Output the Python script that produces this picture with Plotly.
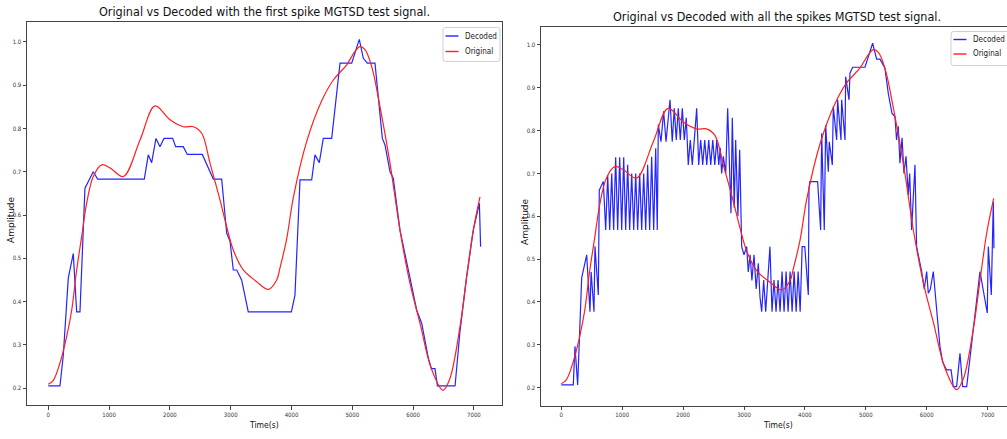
import plotly.graph_objects as go

W, H = 1007, 439

# Original test signal: knots of a smooth curve (time in s, amplitude)
orig_t = [0, 82, 192, 302, 385, 467, 549, 632, 740, 878, 1015, 1234, 1508, 1755,
          2002, 2220, 2385, 2523, 2660, 2824, 2934, 3043, 3207, 3427, 3618, 3757,
          3811, 3921, 4030, 4250, 4497, 4688, 4908, 5044, 5127, 5209, 5319, 5456,
          5620, 5784, 5949, 6113, 6300, 6490, 6600, 6771, 6881, 6990, 7100]
orig_v = [0.209, 0.218, 0.258, 0.319, 0.380, 0.473, 0.550, 0.628, 0.689, 0.716,
          0.709, 0.689, 0.773, 0.852, 0.820, 0.804, 0.804, 0.789, 0.720, 0.635,
          0.573, 0.519, 0.473, 0.446, 0.428, 0.450, 0.478, 0.545, 0.640, 0.770,
          0.864, 0.912, 0.947, 0.978, 0.989, 0.982, 0.943, 0.850, 0.720, 0.565,
          0.442, 0.350, 0.245, 0.195, 0.220, 0.342, 0.457, 0.565, 0.642]

# Decoded with the first spike only
first_t = [0, 192, 247, 329, 411, 467, 521, 603, 740, 812, 1579, 1645, 1700, 1771,
           1837, 1903, 2046, 2095, 2220, 2286, 2533, 2714, 2852, 2934, 2988, 3043,
           3099, 3180, 3289, 3998, 4057, 4140, 4332, 4386, 4457, 4523, 4661, 4798,
           4990, 5115, 5181, 5247, 5373, 5494, 5538, 5620, 5674, 5784, 5921, 6059,
           6141, 6250, 6300, 6360, 6400, 6690, 6770, 6880, 6990, 7090, 7110]
first_v = [0.205, 0.205, 0.276, 0.454, 0.511, 0.376, 0.376, 0.662, 0.700, 0.683,
           0.683, 0.739, 0.721, 0.777, 0.758, 0.777, 0.777, 0.758, 0.758, 0.740,
           0.740, 0.683, 0.683, 0.558, 0.540, 0.473, 0.473, 0.450, 0.376, 0.376,
           0.415, 0.681, 0.681, 0.739, 0.721, 0.777, 0.777, 0.951, 0.951, 1.006,
           0.962, 0.951, 0.951, 0.777, 0.762, 0.700, 0.685, 0.565, 0.473, 0.380,
           0.350, 0.270, 0.245, 0.245, 0.205, 0.205, 0.330, 0.457, 0.565, 0.627,
           0.527]

# Decoded with all the spikes
all_t = [0, 197, 225, 269, 335, 417, 471, 490, 537, 553, 608, 624, 690,
         729, 762, 795, 828, 860, 893, 926, 959, 992, 1025, 1057, 1090, 1123, 1156,
         1189, 1222, 1254, 1287, 1320, 1353, 1386, 1418, 1451, 1484, 1517, 1550,
         1576, 1593, 1637, 1680, 1720, 1785, 1822, 1855, 1888, 1921, 1954, 1987,
         2020, 2052, 2085, 2118, 2151, 2184, 2223, 2256, 2289, 2322, 2355, 2388,
         2421, 2454, 2487, 2520, 2553, 2586, 2610, 2633, 2660, 2700, 2732, 2786,
         2808, 2840, 2863, 2900, 2929, 2962, 3000, 3044, 3070, 3100, 3130, 3164,
         3200, 3235, 3262, 3290, 3323, 3356, 3390, 3426, 3460, 3493, 3526, 3559,
         3592, 3625, 3658, 3691, 3724, 3757, 3790, 3823, 3856, 3889, 3922, 3955,
         3998, 4056, 4067, 4080, 4209, 4258, 4275, 4318, 4341, 4384, 4400, 4450,
         4466, 4521, 4537, 4592, 4603, 4658, 4669, 4724, 4740, 4784, 4986, 5112,
         5178, 5232, 5314, 5369, 5430, 5478, 5505, 5533, 5560, 5595, 5626, 5660,
         5697, 5720, 5752, 5807, 5834, 5880, 5917, 5960, 5999, 6026, 6060, 6108,
         6163, 6217, 6260, 6327, 6400, 6436, 6491, 6546, 6590, 6656, 6874, 6994,
         7011, 7060, 7093, 7104]
all_v = [0.206, 0.206, 0.296, 0.206, 0.456, 0.510, 0.377, 0.470, 0.377, 0.530,
         0.416, 0.661, 0.681,
         0.568, 0.696, 0.568, 0.700, 0.568, 0.738, 0.568, 0.738, 0.568, 0.738,
         0.568, 0.720, 0.568, 0.700, 0.568, 0.700, 0.568, 0.700, 0.568, 0.700,
         0.568, 0.720, 0.568, 0.739, 0.568, 0.759,
         0.568, 0.814, 0.774, 0.845, 0.774, 0.872, 0.774, 0.852, 0.778, 0.852,
         0.778, 0.852, 0.778, 0.830, 0.720, 0.778, 0.720, 0.778, 0.852, 0.720,
         0.778, 0.720, 0.778, 0.720, 0.778, 0.720, 0.778, 0.720, 0.778, 0.720,
         0.760, 0.700, 0.740, 0.700, 0.852, 0.607, 0.830, 0.620, 0.778, 0.600,
         0.755, 0.529, 0.510, 0.529, 0.470, 0.510, 0.450, 0.510, 0.430, 0.490,
         0.412, 0.377, 0.451, 0.377, 0.451, 0.529, 0.377, 0.451, 0.377, 0.451,
         0.377, 0.471, 0.377, 0.471, 0.377, 0.471, 0.377, 0.471, 0.377, 0.471,
         0.377, 0.529, 0.529, 0.416, 0.665, 0.681, 0.681, 0.568, 0.794, 0.568,
         0.813, 0.704, 0.774, 0.720, 0.856, 0.778, 0.872, 0.778, 0.872, 0.778,
         0.926, 0.872, 0.934, 0.948, 0.948, 1.004, 0.967, 0.967, 0.946, 0.887,
         0.840, 0.833, 0.778, 0.810, 0.724, 0.783, 0.700, 0.740, 0.650, 0.700,
         0.568, 0.720, 0.529, 0.500, 0.471, 0.430, 0.471, 0.420, 0.430, 0.471,
         0.374, 0.296, 0.260, 0.241, 0.241, 0.202, 0.202, 0.280, 0.202, 0.202,
         0.471, 0.374, 0.529, 0.416, 0.634, 0.525]

x_ticks = [0, 1000, 2000, 3000, 4000, 5000, 6000, 7000]
y_ticks = [0.2, 0.3, 0.4, 0.5, 0.6, 0.7, 0.8, 0.9, 1.0]
y_tick_text = ["0.2", "0.3", "0.4", "0.5", "0.6", "0.7", "0.8", "0.9", "1.0"]

titles = ["Original vs Decoded with the first spike MGTSD test signal.",
          "Original vs Decoded with all the spikes MGTSD test signal."]
series_names = ["Decoded", "Original"]

BLUE = "#2424ff"
RED = "#ff2020"
NARROW = "Liberation Sans Narrow, DejaVu Sans Condensed, Liberation Sans, sans-serif"
WIDE = "DejaVu Sans, sans-serif"


def px(x):
    return x / W


def py(y):
    return 1 - y / H


fig = go.Figure()
for xa, ya, dt, dv in (("x", "y", first_t, first_v), ("x2", "y2", all_t, all_v)):
    fig.add_trace(go.Scatter(x=dt, y=dv, mode="lines", name=series_names[0],
                             line=dict(color=BLUE, width=1.2),
                             xaxis=xa, yaxis=ya, showlegend=False))
    fig.add_trace(go.Scatter(x=orig_t, y=orig_v, mode="lines", name=series_names[1],
                             line=dict(color=RED, width=1.2, shape="spline", smoothing=1.0),
                             xaxis=xa, yaxis=ya, showlegend=False))

axis_style = dict(showline=True, linecolor="#444", linewidth=1, ticks="outside",
                  ticklen=3.5, tickwidth=0.8, tickcolor="#444", showgrid=False,
                  zeroline=False, tickfont=dict(family=NARROW, size=6, color="#333"))

fig.update_layout(
    width=W, height=H,
    margin=dict(l=0, r=0, t=0, b=0, autoexpand=False),
    paper_bgcolor="white", plot_bgcolor="white",
    showlegend=False,
    xaxis=dict(domain=[px(27), px(502)], range=[-350, 7462], anchor="y",
               mirror=True, tickvals=x_ticks, **axis_style),
    yaxis=dict(domain=[py(405), py(22)], range=[0.161, 1.046], anchor="x",
               mirror=True, tickvals=y_ticks, ticktext=y_tick_text, **axis_style),
    xaxis2=dict(domain=[px(541), 1.0], range=[-333, 7318], anchor="y2",
                mirror=True, tickvals=x_ticks, **axis_style),
    yaxis2=dict(domain=[py(405.5), py(27)], range=[0.158, 1.042], anchor="x2",
                mirror=False, tickvals=y_ticks, ticktext=y_tick_text, **axis_style),
)

annotations = []
shapes = []

# panel titles and axis titles
for cx, ty, text in ((264, 12, titles[0]), (777, 17, titles[1])):
    annotations.append(dict(x=px(cx), y=py(ty), xref="paper", yref="paper", text=text,
                            showarrow=False, xanchor="center", yanchor="middle",
                            font=dict(family=NARROW, size=12.5, color="#111")))
for cx in (264, 777.5):
    annotations.append(dict(x=px(cx), y=py(425), xref="paper", yref="paper", text="Time(s)",
                            showarrow=False, xanchor="center", yanchor="middle",
                            font=dict(family=NARROW, size=8.5, color="#111")))
for cx, cy in ((10.5, 219.5), (525, 222)):
    annotations.append(dict(x=px(cx), y=py(cy), xref="paper", yref="paper", text="Amplitude",
                            showarrow=False, textangle=-90, xanchor="center", yanchor="middle",
                            font=dict(family=WIDE, size=9, color="#111")))


def rounded_box(x0, y0, x1, y1, r=2.5):
    pts = [("M", x0 + r, y0), ("L", x1 - r, y0), ("Q", x1, y0, x1, y0 + r),
           ("L", x1, y1 - r), ("Q", x1, y1, x1 - r, y1), ("L", x0 + r, y1),
           ("Q", x0, y1, x0, y1 - r), ("L", x0, y0 + r), ("Q", x0, y0, x0 + r, y0)]
    parts = []
    for p in pts:
        cmd, coords = p[0], p[1:]
        xy = []
        for i in range(0, len(coords), 2):
            xy.append(f"{px(coords[i]):.5f},{py(coords[i + 1]):.5f}")
        parts.append(cmd + " ".join(xy))
    return "".join(parts) + "Z"


# legend boxes: (box left, top, right, bottom, row y's)
for bx0, by0, bx1, by1, rows in ((443, 27.5, 500, 61.5, (36, 51.5)),
                                  (951, 31.5, 1030, 65.5, (39.5, 54))):
    shapes.append(dict(type="path", path=rounded_box(bx0, by0, bx1, by1), xref="paper",
                       yref="paper", line=dict(color="#cfcfcf", width=1),
                       fillcolor="rgba(255,255,255,0.85)", layer="above"))
    for ry, color, label in ((rows[0], BLUE, series_names[0]), (rows[1], RED, series_names[1])):
        shapes.append(dict(type="line", xref="paper", yref="paper",
                           x0=px(bx0 + 2.5), x1=px(bx0 + 15.5), y0=py(ry), y1=py(ry),
                           line=dict(color=color, width=1.4), layer="above"))
        annotations.append(dict(x=px(bx0 + 19.5), y=py(ry), xref="paper", yref="paper",
                                text=label, showarrow=False, xanchor="left",
                                yanchor="middle",
                                font=dict(family=NARROW, size=8, color="#222")))

fig.update_layout(annotations=annotations, shapes=shapes)
fig.write_html("out.html")
